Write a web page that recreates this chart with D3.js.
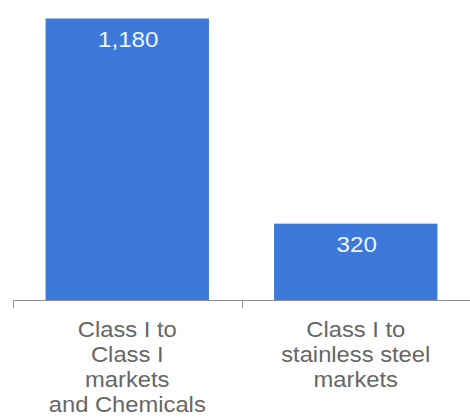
<!DOCTYPE html>
<html>
<head>
<meta charset="utf-8">
<script src="https://cdn.jsdelivr.net/npm/d3@7"></script>
<style>
  html, body { margin: 0; padding: 0; background: #fff; }
  svg { display: block; }
</style>
</head>
<body>
<svg id="chart" width="470" height="420"></svg>
<script>
// Category labels (each line of a wrapped label is one entry)
const categories = ["Class I to Class I markets and Chemicals", "Class I to stainless steel markets"];
const categoryLines = [
  ["Class I to", "Class I", "markets", "and Chemicals"],
  ["Class I to", "stainless steel", "markets"]
];
const values = [1180, 320];
const valueLabels = ["1,180", "320"];

const svg = d3.select("#chart");
const W = 470, H = 420;
const baseY = 300, topY = 18.5;
const FONT = "Liberation Sans, Arial, sans-serif";

const x = d3.scaleBand()
  .domain(categories)
  .range([13, 470])
  .paddingInner(0.285)
  .paddingOuter(0.1425);

const y = d3.scaleLinear()
  .domain([0, d3.max(values)])
  .range([baseY, topY]);

const data = categories.map((c, i) => ({ c, v: values[i], label: valueLabels[i], lines: categoryLines[i] }));

// Bars
svg.selectAll("rect.bar")
  .data(data)
  .join("rect")
  .attr("class", "bar")
  .attr("x", d => x(d.c))
  .attr("y", d => y(d.v))
  .attr("width", x.bandwidth())
  .attr("height", d => y(0) - y(d.v))
  .attr("fill", "#3c79d9");

// Value labels inside bars (slightly widened type)
svg.selectAll("g.val")
  .data(data)
  .join("g")
  .attr("class", "val")
  .attr("transform", d => `translate(${x(d.c) + x.bandwidth() / 2 + 1},${y(d.v) + 28.5}) scale(1.1,1)`)
  .append("text")
  .attr("text-anchor", "middle")
  .attr("font-family", FONT)
  .attr("font-size", 22)
  .attr("fill", "#eef4ff")
  .text(d => d.label);

// Baseline axis with ticks at band boundaries
const step = x.step();
const half = step * x.paddingInner() / 2;
const boundaries = [x(categories[0]) - half].concat(categories.map(c => x(c) + x.bandwidth() + half));

const axis = svg.append("g");
axis.append("line")
  .attr("x1", boundaries[0]).attr("x2", W)
  .attr("y1", baseY + 0.5).attr("y2", baseY + 0.5)
  .attr("stroke", "#8c8c8c").attr("stroke-width", 1);
axis.selectAll("line.tick")
  .data(boundaries)
  .join("line")
  .attr("class", "tick")
  .attr("x1", d => Math.round(d) + 0.5).attr("x2", d => Math.round(d) + 0.5)
  .attr("y1", baseY).attr("y2", baseY + 8)
  .attr("stroke", "#9a9a9a").attr("stroke-width", 1);

// Category labels below the axis
const lab = svg.selectAll("g.cat")
  .data(data)
  .join("g")
  .attr("class", "cat")
  .attr("transform", d => `translate(${x(d.c) + x.bandwidth() / 2},0) scale(1.08,1)`)
  .append("text")
  .attr("text-anchor", "middle")
  .attr("font-family", FONT)
  .attr("font-size", 22)
  .attr("fill", "#666666");
lab.selectAll("tspan")
  .data(d => d.lines)
  .join("tspan")
  .attr("x", 0)
  .attr("y", (d, i) => 337 + i * 25)
  .text(d => d);
</script>
</body>
</html>
